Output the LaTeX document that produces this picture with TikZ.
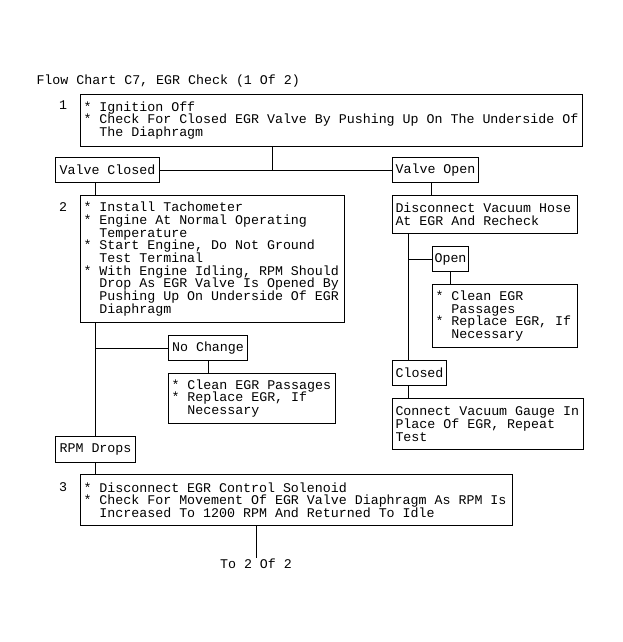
\documentclass[tikz,border=0pt]{standalone}
\usepackage{fontspec}
\setmainfont{Liberation Mono}
\newcommand\hind{\hspace*{15.96pt}}
\begin{document}
\begin{tikzpicture}[x=1pt,y=-1pt,line width=1pt,
  every node/.style={font=\fontsize{13.3}{12.7}\selectfont},
  box/.style={draw,anchor=north west,inner xsep=3pt,inner ysep=0pt,align=left,
    execute at begin node={\spaceskip=0.6001em\relax\xspaceskip=0.6001em\relax}},
  lbl/.style={draw,anchor=north west,inner sep=0pt,minimum height=25pt},
  num/.style={inner sep=0pt}]
\useasboundingbox (0,0) rectangle (622,642);
\node[anchor=base west,inner sep=0pt] (title) at (36,84) {Flow Chart C7, EGR Check (1 Of 2)};
% step 1
\node[num] (n1) at (63,105) {1};
\node[box,minimum height=52pt,text width=496pt] (b1) at (80,94)
  {{}* Ignition Off\\{}* Check For Closed EGR Valve By Pushing Up On The Underside Of\\\hind The Diaphragm};
\node[lbl,minimum width=104pt] (vc) at (55,157) {Valve Closed};
\node[lbl,minimum width=86pt] (vo) at (392,157) {Valve Open};
% step 2
\node[num] (n2) at (63,207) {2};
\node[box,minimum height=127pt,text width=258pt] (b2) at (80,195)
  {{}* Install Tachometer\\{}* Engine At Normal Operating\\\hind Temperature\\{}* Start Engine, Do Not Ground\\\hind Test Terminal\\{}* With Engine Idling, RPM Should\\\hind Drop As EGR Valve Is Opened By\\\hind Pushing Up On Underside Of EGR\\\hind Diaphragm};
\node[box,minimum height=38pt,text width=179pt] (dis) at (392,195)
  {Disconnect Vacuum Hose\\At EGR And Recheck};
\node[lbl,minimum width=36pt] (op) at (432,246) {Open};
\node[box,minimum height=63pt,text width=139pt] (cl1) at (432,284)
  {{}* Clean EGR\\\hind Passages\\{}* Replace EGR, If\\\hind Necessary};
\node[lbl,minimum width=54pt] (cd) at (392,360) {Closed};
\node[box,minimum height=51pt,text width=185pt] (con) at (392,398)
  {Connect Vacuum Gauge In\\Place Of EGR, Repeat\\Test};
\node[lbl,minimum width=79pt] (nc) at (168,335) {No Change};
\node[box,minimum height=50pt,text width=161pt] (cl2) at (168,373)
  {{}* Clean EGR Passages\\{}* Replace EGR, If\\\hind Necessary};
\node[lbl,minimum width=80pt,minimum height=26pt] (rpm) at (55,436) {RPM Drops};
% step 3
\node[num] (n3) at (63,487) {3};
\node[box,minimum height=51pt,text width=426pt] (b3) at (80,474)
  {{}* Disconnect EGR Control Solenoid\\{}* Check For Movement Of EGR Valve Diaphragm As RPM Is\\\hind Increased To 1200 RPM And Returned To Idle};
\node[anchor=base,inner sep=0pt] (to) at (256,568) {To 2 Of 2};
% spine coordinates
\coordinate (j1) at (272,169.5);
\coordinate (sl) at (95,0);
\coordinate (sr) at (431,0);
\coordinate (sd) at (408,0);
\coordinate (s3) at (256,0);
% connectors
\draw (j1 |- b1.south) -- (j1);
\draw (vc.east) -- (vo.west);
\draw (sl |- vc.south) -- (sl |- b2.north);
\draw (sr |- vo.south) -- (sr |- dis.north);
\draw (sl |- b2.south) -- (sl |- rpm.north);
\draw (sl |- nc.west) -- (nc.west);
\draw (nc.south) -- (nc.south |- cl2.north);
\draw (sd |- dis.south) -- (sd |- cd.north);
\draw (sd |- op.west) -- (op.west);
\draw (op.south) -- (op.south |- cl1.north);
\draw (sd |- cd.south) -- (sd |- con.north);
\draw (sl |- rpm.south) -- (sl |- b3.north);
\draw (s3 |- b3.south) -- (to.north);
\end{tikzpicture}
\end{document}
